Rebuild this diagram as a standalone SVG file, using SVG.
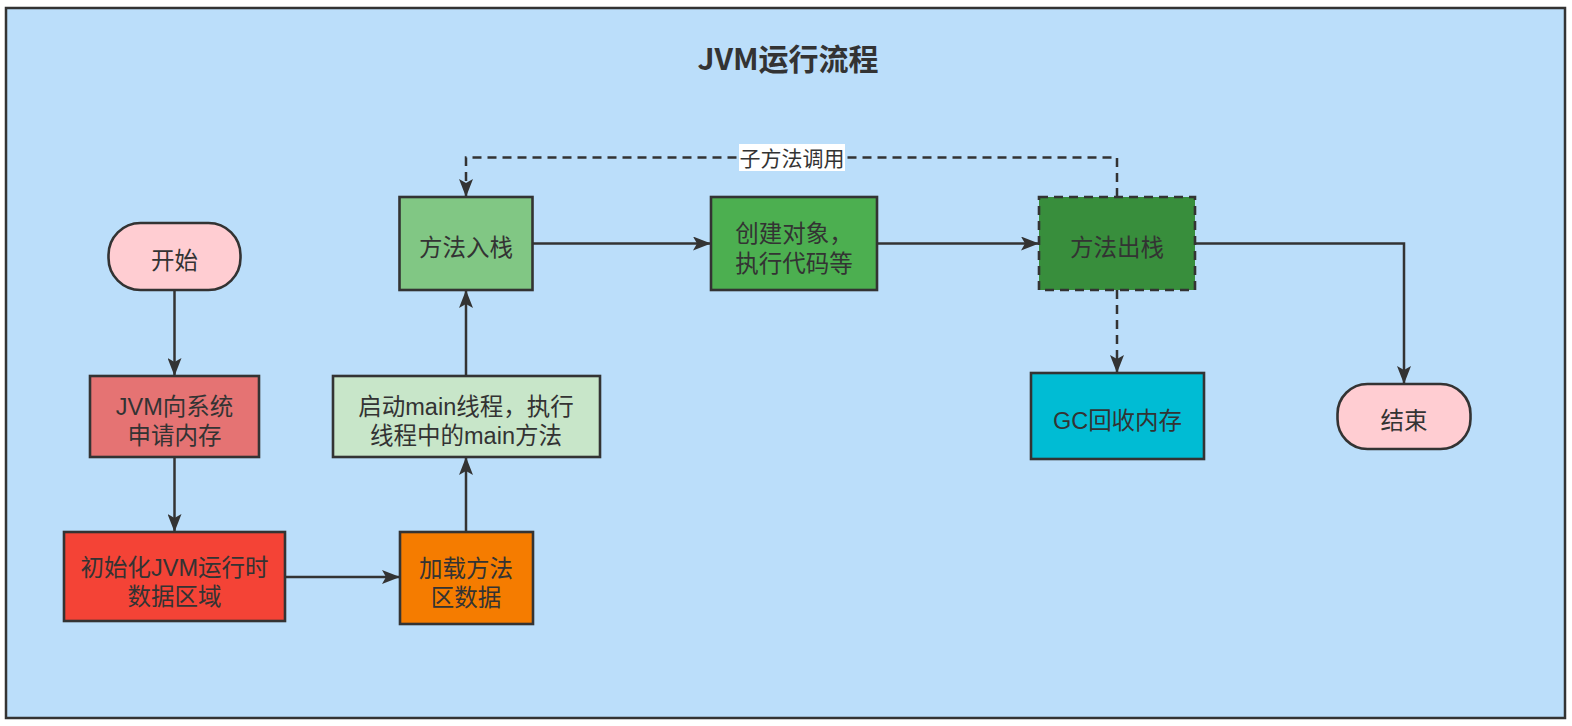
<svg xmlns="http://www.w3.org/2000/svg" width="1572" height="726" viewBox="0 0 1572 726">
<defs>
<marker id="arr" viewBox="0 0 18 14" refX="18" refY="7" markerWidth="18" markerHeight="14" markerUnits="userSpaceOnUse" orient="auto">
<path d="M0,0 L18,7 L0,14 L4,7 Z" fill="#333"/>
</marker>
</defs>
<style>
.n{stroke:#333;stroke-width:2.6}
.t{font-family:"Liberation Sans","Noto Sans CJK SC",sans-serif;font-size:23.5px;fill:#333;text-anchor:middle}
.c{fill:none;stroke:#333;stroke-width:2.5}
.d{stroke-dasharray:9 6}
</style>
<rect x="6" y="8" width="1559" height="710" fill="#BBDEFA" stroke="#333" stroke-width="2.5"/>
<text x="788" y="70" font-family="'Noto Sans CJK SC',sans-serif" font-size="30" font-weight="bold" fill="#333" text-anchor="middle">JVM运行流程</text>
<g id="connectors">
<path class="c" d="M174.5,290 V376" marker-end="url(#arr)"/>
<path class="c" d="M174.5,457 V532" marker-end="url(#arr)"/>
<path class="c" d="M285,577 H400" marker-end="url(#arr)"/>
<path class="c" d="M466,532 V457" marker-end="url(#arr)"/>
<path class="c" d="M466,376 V290" marker-end="url(#arr)"/>
<path class="c" d="M532,243.5 H711" marker-end="url(#arr)"/>
<path class="c" d="M877,243.5 H1039" marker-end="url(#arr)"/>
<path class="c" d="M1195,243.5 H1404 V384" marker-end="url(#arr)"/>
<path class="c d" d="M1117,290 V373" marker-end="url(#arr)"/>
<path class="c d" d="M1117,197 V157.5 H466 V197" marker-end="url(#arr)"/>
<rect x="739" y="144" width="106" height="27" fill="#fff"/>
<text x="792" y="166" font-family="'Noto Sans CJK SC',sans-serif" font-size="21" fill="#333" text-anchor="middle">子方法调用</text>
</g>
<g id="start"><rect class="n" x="108.5" y="223" width="132" height="67" rx="32" fill="#FFCDD2"/><text class="t" x="174.5" y="269">开始</text></g>
<g id="alloc"><rect class="n" x="90" y="376" width="169" height="81" fill="#E57373"/><text class="t"><tspan x="174.5" y="415">JVM向系统</tspan><tspan x="174.5" y="444">申请内存</tspan></text></g>
<g id="init"><rect class="n" x="64" y="532" width="221" height="89" fill="#F44336"/><text class="t"><tspan x="174.5" y="576">初始化JVM运行时</tspan><tspan x="174.5" y="605">数据区域</tspan></text></g>
<g id="load"><rect class="n" x="400" y="532" width="133" height="92" fill="#F57C00"/><text class="t"><tspan x="466" y="576.5">加载方法</tspan><tspan x="466" y="605.5">区数据</tspan></text></g>
<g id="mainthread"><rect class="n" x="333" y="376" width="267" height="81" fill="#C8E6C9"/><text class="t"><tspan x="466" y="415">启动main线程，执行</tspan><tspan x="466" y="444">线程中的main方法</tspan></text></g>
<g id="push"><rect class="n" x="399.5" y="197" width="133" height="93" fill="#81C784"/><text class="t" x="466" y="256">方法入栈</text></g>
<g id="exec"><rect class="n" x="711" y="197" width="166" height="93" fill="#4CAF50"/><text class="t"><tspan x="794" y="241.5">创建对象，</tspan><tspan x="794" y="271.5">执行代码等</tspan></text></g>
<g id="pop"><rect class="n d" x="1039" y="197" width="156" height="93" fill="#388E3C"/><text class="t" x="1117" y="256">方法出栈</text></g>
<g id="gc"><rect class="n" x="1031" y="373" width="173" height="86" fill="#00BCD4"/><text class="t" x="1117.5" y="429">GC回收内存</text></g>
<g id="end"><rect class="n" x="1337.5" y="384" width="133" height="65" rx="30" fill="#FFCDD2"/><text class="t" x="1404" y="429">结束</text></g>
</svg>
